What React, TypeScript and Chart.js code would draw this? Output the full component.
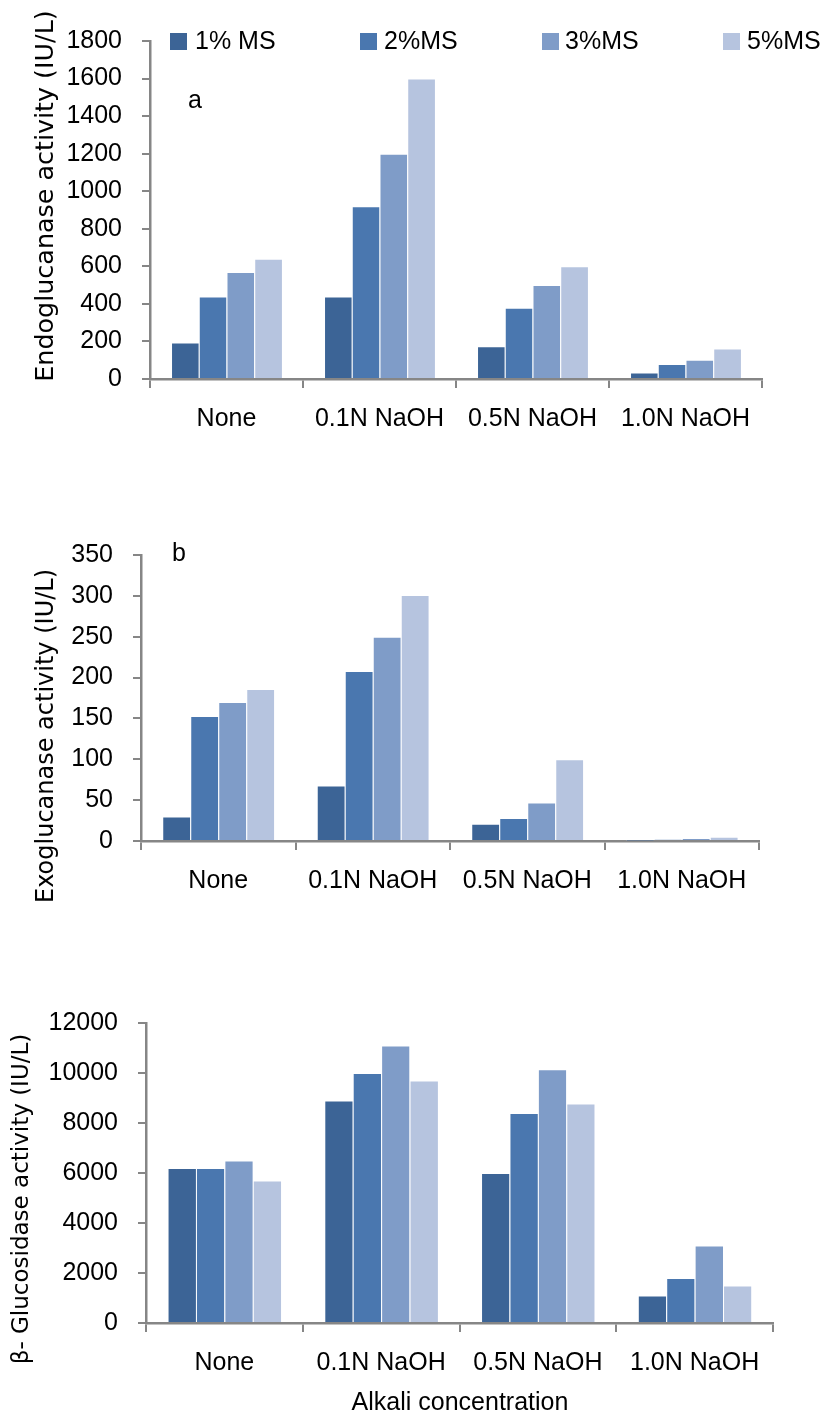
import React, { useEffect, useRef } from "react";
import { Chart, registerables } from "chart.js";

Chart.register(...registerables);

// ---------- data ----------
const categories = ["None", "0.1N NaOH", "0.5N NaOH", "1.0N NaOH"];
const seriesLabels = ["1% MS", "2%MS", "3%MS", "5%MS"];
const seriesColors = ["#3C6496", "#4A77AF", "#7F9CC8", "#B6C4DF"];

// (a) Endoglucanase activity (IU/L)
const endo1 = [195, 440, 175, 35];
const endo2 = [440, 920, 380, 80];
const endo3 = [570, 1200, 500, 102];
const endo5 = [640, 1600, 600, 162];
const endoTicks = { min: 0, max: 1800, step: 200 };

// (b) Exoglucanase activity (IU/L)
const exo1 = [30, 68, 21, 0.4];
const exo2 = [153, 208, 28, 2];
const exo3 = [170, 250, 47, 3.7];
const exo5 = [186, 301, 100, 5.3];
const exoTicks = { min: 0, max: 350, step: 50 };

// (c) beta-Glucosidase activity (IU/L)
const gluc1 = [6200, 8900, 6000, 1100];
const gluc2 = [6200, 10000, 8400, 1800];
const gluc3 = [6500, 11100, 10150, 3100];
const gluc5 = [5700, 9700, 8780, 1500];
const glucTicks = { min: 0, max: 12000, step: 2000 };

const yTitleA = "Endoglucanase activity (IU/L)";
const yTitleB = "Exoglucanase activity (IU/L)";
const yTitleC = "\u03B2- Glucosidase activity (IU/L)";
const xTitleC = "Alkali concentration";

// ---------- styling ----------
const W = 822;
const AXIS = "#868686";
const LABEL_FONT = "'Liberation Sans', Arial, sans-serif";
const TITLE_FONT = "'DejaVu Sans', Verdana, sans-serif";

type TextItem = {
  text: string;
  x: number;
  y: number;
  size: number;
  family: string;
  rotate?: boolean;
  align?: CanvasTextAlign;
};
type Swatch = { x: number; y: number; s: number; color: string };

type PanelSpec = {
  top: number;
  height: number;
  area: { left: number; top: number; right: number; bottom: number };
  series: number[][];
  ticks: { min: number; max: number; step: number };
  texts: TextItem[];
  swatches: Swatch[];
};

const overlayPlugin = {
  id: "overlayTexts",
  afterDraw(chart: any, _args: any, opts: any) {
    const ctx = chart.ctx as CanvasRenderingContext2D;
    ctx.save();
    (opts.swatches || []).forEach((sw: Swatch) => {
      ctx.fillStyle = sw.color;
      ctx.fillRect(sw.x, sw.y, sw.s, sw.s);
    });
    (opts.texts || []).forEach((t: TextItem) => {
      ctx.save();
      ctx.fillStyle = "#000";
      ctx.font = `${t.size}px ${t.family}`;
      ctx.textBaseline = "middle";
      ctx.textAlign = t.align || "center";
      ctx.translate(t.x, t.y);
      if (t.rotate) ctx.rotate(-Math.PI / 2);
      ctx.fillText(t.text, 0, 0);
      ctx.restore();
    });
    ctx.restore();
  },
};

function Panel({ spec }: { spec: PanelSpec }) {
  const ref = useRef<HTMLCanvasElement | null>(null);
  useEffect(() => {
    if (!ref.current) return;
    const { area, height } = spec;
    const chart = new Chart(ref.current, {
      type: "bar",
      data: {
        labels: categories,
        datasets: spec.series.map((vals, i) => ({
          label: seriesLabels[i],
          data: vals,
          backgroundColor: seriesColors[i],
          borderColor: "rgba(255,255,255,0.35)",
          borderWidth: { top: 1, left: 1, right: 0, bottom: 0 },
          borderSkipped: false,
          categoryPercentage: 0.725,
          barPercentage: 1.0,
        })),
      },
      options: {
        animation: false,
        responsive: false,
        maintainAspectRatio: false,
        devicePixelRatio: 1,
        layout: {
          padding: { left: 0, top: area.top, right: W - area.right, bottom: 0 },
        },
        plugins: {
          legend: { display: false },
          tooltip: { enabled: false },
          overlayTexts: { texts: spec.texts, swatches: spec.swatches },
        } as any,
        scales: {
          x: {
            grid: {
              offset: true,
              drawOnChartArea: false,
              drawTicks: true,
              tickLength: 9,
              color: AXIS,
              lineWidth: 2,
            },
            border: { display: true, color: AXIS, width: 2.5 },
            ticks: {
              color: "#000",
              font: { family: LABEL_FONT, size: 25 },
              padding: 16,
              maxRotation: 0,
              autoSkip: false,
            },
            afterFit: (s: any) => {
              s.height = height - area.bottom;
            },
          },
          y: {
            min: spec.ticks.min,
            max: spec.ticks.max,
            ticks: {
              stepSize: spec.ticks.step,
              color: "#000",
              font: { family: LABEL_FONT, size: 25 },
              padding: 20,
              callback: (v: any) => String(v),
            },
            grid: {
              drawOnChartArea: false,
              drawTicks: true,
              tickLength: 8,
              color: AXIS,
              lineWidth: 2,
            },
            border: { display: true, color: AXIS, width: 2.5 },
            afterFit: (s: any) => {
              s.width = area.left;
            },
          },
        },
      },
      plugins: [overlayPlugin],
    });
    return () => chart.destroy();
  }, [spec]);
  return (
    <canvas
      ref={ref}
      width={W}
      height={spec.height}
      style={{ position: "absolute", left: 0, top: spec.top, width: W, height: spec.height }}
    />
  );
}

const legendSwatchX = [170, 360, 542, 723];
const legendTextX = [195, 384, 565, 747];

const panels: PanelSpec[] = [
  {
    top: 0,
    height: 470,
    area: { left: 150, top: 41, right: 762, bottom: 379 },
    series: [endo1, endo2, endo3, endo5],
    ticks: endoTicks,
    texts: [
      { text: yTitleA, x: 46, y: 196, size: 25.4, family: TITLE_FONT, rotate: true },
      { text: "a", x: 195, y: 101, size: 25, family: LABEL_FONT },
      ...seriesLabels.map((l, i) => ({
        text: l,
        x: legendTextX[i],
        y: 42,
        size: 25,
        family: LABEL_FONT,
        align: "left" as CanvasTextAlign,
      })),
    ],
    swatches: seriesColors.map((c, i) => ({ x: legendSwatchX[i], y: 33, s: 17, color: c })),
  },
  {
    top: 470,
    height: 470,
    area: { left: 141, top: 85, right: 759, bottom: 371 },
    series: [exo1, exo2, exo3, exo5],
    ticks: exoTicks,
    texts: [
      { text: yTitleB, x: 47, y: 266, size: 24, family: TITLE_FONT, rotate: true },
      { text: "b", x: 179, y: 84, size: 25, family: LABEL_FONT },
    ],
    swatches: [],
  },
  {
    top: 940,
    height: 476,
    area: { left: 146, top: 83, right: 773, bottom: 383 },
    series: [gluc1, gluc2, gluc3, gluc5],
    ticks: glucTicks,
    texts: [
      { text: yTitleC, x: 22, y: 259, size: 23, family: TITLE_FONT, rotate: true },
      { text: xTitleC, x: 460, y: 463, size: 25, family: LABEL_FONT },
    ],
    swatches: [],
  },
];

export default function App() {
  return (
    <div style={{ position: "absolute", left: 0, top: 0, width: W, height: 1416, background: "#fff" }}>
      {panels.map((p, i) => (
        <Panel key={i} spec={p} />
      ))}
    </div>
  );
}
